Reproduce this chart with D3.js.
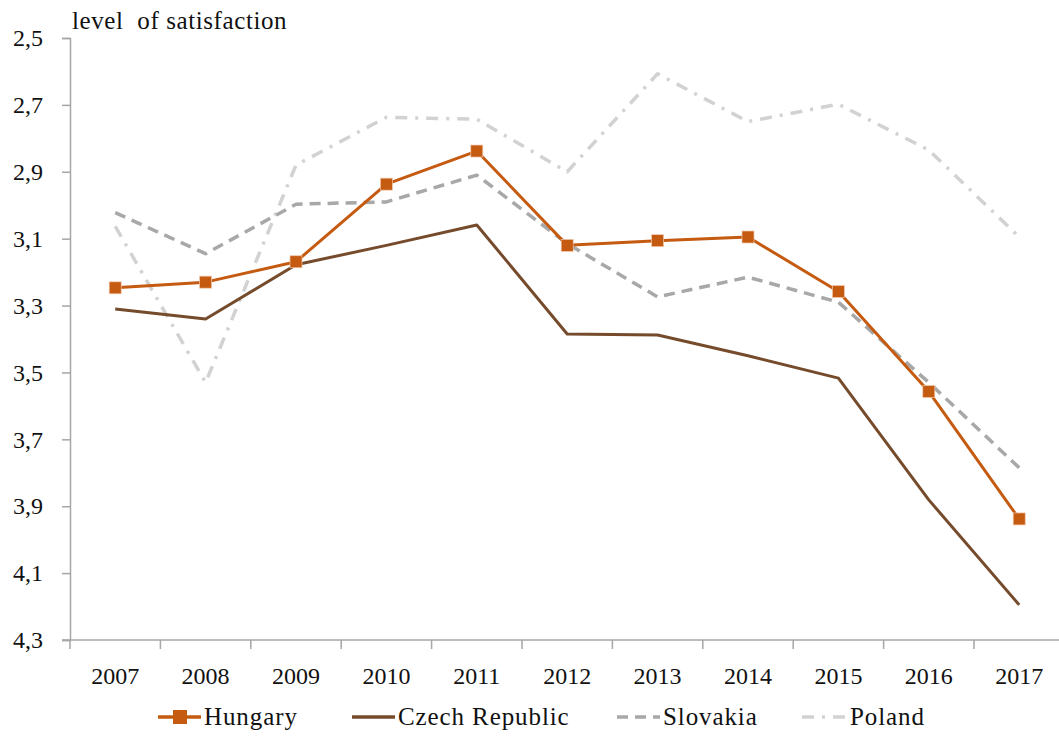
<!DOCTYPE html>
<meta charset="utf-8">
<body style="margin:0;background:#fff">
<script src="https://cdnjs.cloudflare.com/ajax/libs/d3/7.8.5/d3.min.js"></script>
<script>
var years = ["2007","2008","2009","2010","2011","2012","2013","2014","2015","2016","2017"];
var hungary  = [3.247, 3.23, 3.169, 2.937, 2.838, 3.12, 3.106, 3.095, 3.258, 3.557, 3.938];
var czech    = [3.31, 3.34, 3.178, 3.12, 3.059, 3.385, 3.388, 3.45, 3.517, 3.881, 4.195];
var slovakia = [3.022, 3.145, 2.997, 2.99, 2.91, 3.115, 3.274, 3.215, 3.29, 3.53, 3.785];
var poland   = [3.063, 3.53, 2.88, 2.737, 2.743, 2.9, 2.607, 2.75, 2.698, 2.835, 3.095];
var yTicks = [2.5, 2.7, 2.9, 3.1, 3.3, 3.5, 3.7, 3.9, 4.1, 4.3];

var series = [
  {name: "Hungary", values: hungary, color: "#c55a11", dash: null, marker: true},
  {name: "Czech Republic", values: czech, color: "#754b2c", dash: null, marker: false},
  {name: "Slovakia", values: slovakia, color: "#a8a8a8", dash: "11,7", marker: false},
  {name: "Poland", values: poland, color: "#d2d2d2", dash: "12,8,3,8", marker: false}
];

var width = 1059, height = 738;
var font = "'Liberation Serif', serif";

var svg = d3.select("body").append("svg")
  .attr("width", width)
  .attr("height", height);

var x = d3.scaleBand().domain(years).range([70, 70 + 11 * 90.4]);
var y = d3.scaleLinear().domain([2.5, 4.3]).range([38, 640]);

// y axis
var yAxis = svg.append("g")
  .attr("transform", "translate(70,0)")
  .call(d3.axisLeft(y).tickValues(yTicks).tickSize(8).tickPadding(19)
    .tickFormat(function(d) { return d3.format(".1f")(d).replace(".", ","); }));
yAxis.select(".domain").attr("stroke", "#a6a6a6").attr("stroke-width", 1.5);
yAxis.selectAll(".tick line").attr("stroke", "#a6a6a6").attr("stroke-width", 1.5);
yAxis.selectAll(".tick text").attr("font-size", 24).attr("font-family", font).attr("fill", "#111");

// x axis baseline + boundary ticks
svg.append("line")
  .attr("x1", 62).attr("x2", width).attr("y1", 640).attr("y2", 640)
  .attr("stroke", "#a6a6a6").attr("stroke-width", 1.5);
svg.append("g").selectAll("line")
  .data(years)
  .enter().append("line")
  .attr("x1", function(d) { return x(d); })
  .attr("x2", function(d) { return x(d); })
  .attr("y1", 640).attr("y2", 649)
  .attr("stroke", "#a6a6a6").attr("stroke-width", 1.5);

var xAxis = svg.append("g")
  .attr("transform", "translate(0,640)")
  .call(d3.axisBottom(x).tickSize(0).tickPadding(27));
xAxis.select(".domain").remove();
xAxis.selectAll(".tick text").attr("font-size", 24).attr("font-family", font).attr("fill", "#111");

// title
svg.append("text")
  .attr("x", 72).attr("y", 29)
  .attr("font-size", 25)
  .attr("font-family", font)
  .attr("fill", "#111")
  .attr("letter-spacing", 0.6)
  .style("white-space", "pre")
  .text("level  of satisfaction");

var line = d3.line()
  .x(function(d, i) { return x(years[i]) + x.bandwidth() / 2; })
  .y(function(d) { return y(d); });

// draw back to front
var order = [series[3], series[2], series[1], series[0]];
svg.append("g").selectAll("path")
  .data(order)
  .enter().append("path")
  .attr("d", function(s) { return line(s.values); })
  .attr("fill", "none")
  .attr("stroke", function(s) { return s.color; })
  .attr("stroke-width", function(s) { return s.dash ? 3.5 : 3; })
  .attr("stroke-dasharray", function(s) { return s.dash; })
  .attr("stroke-linejoin", "round");

svg.append("g").selectAll("rect")
  .data(hungary)
  .enter().append("rect")
  .attr("x", function(d, i) { return x(years[i]) + x.bandwidth() / 2 - 6; })
  .attr("y", function(d) { return y(d) - 6; })
  .attr("width", 12).attr("height", 12)
  .attr("fill", "#c55a11")
  .attr("stroke", "#f2c9ad").attr("stroke-width", 0.7);

// legend
var legendX = [158, 352, 617, 802];
var legend = svg.append("g").selectAll("g")
  .data(series)
  .enter().append("g")
  .attr("transform", function(s, i) { return "translate(" + legendX[i] + ",717)"; });
legend.append("line")
  .attr("x1", 0).attr("x2", 43).attr("y1", 0).attr("y2", 0)
  .attr("stroke", function(s) { return s.color; })
  .attr("stroke-width", 3.5)
  .attr("stroke-dasharray", function(s) { return s.dash; });
legend.filter(function(s) { return s.marker; }).append("rect")
  .attr("x", 15).attr("y", -7).attr("width", 14).attr("height", 14)
  .attr("fill", "#c55a11");
legend.append("text")
  .attr("x", function(s, i) { return i === 3 ? 48 : 46; })
  .attr("y", 8)
  .attr("font-size", 25)
  .attr("font-family", font)
  .attr("letter-spacing", 0.9)
  .attr("fill", "#111")
  .text(function(s) { return s.name; });
</script>
</body>
